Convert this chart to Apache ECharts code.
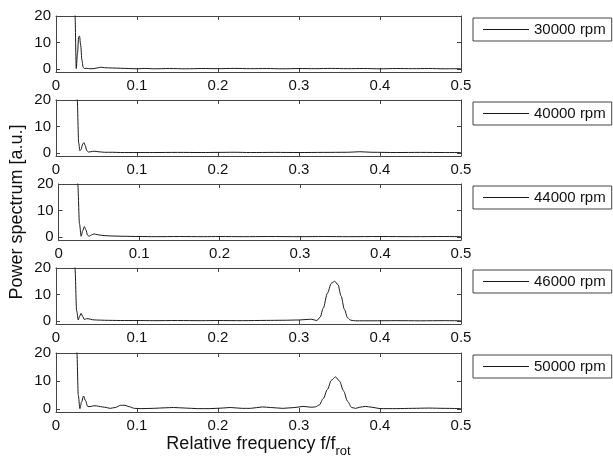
<!DOCTYPE html>
<html><head><meta charset="utf-8">
<script src="https://cdn.jsdelivr.net/npm/echarts@6/dist/echarts.min.js"></script>
<style>html,body{margin:0;padding:0;background:#fff}#c{width:613px;height:463px}</style>
</head><body><div id="c"></div>
<script>
// ---- data ----
const seriesNames = ['30000 rpm', '40000 rpm', '44000 rpm', '46000 rpm', '50000 rpm'];
const xTicks = [0, 0.1, 0.2, 0.3, 0.4, 0.5];
const yTicks = [0, 10, 20];

const freq30000 = [0.021,0.0235,0.025,0.0265,0.028,0.029,0.0305,0.032,0.0335,0.035,0.038,0.042,0.047,0.052,0.056,0.06,0.07,0.08,0.09,0.1,0.11,0.12,0.14,0.16,0.18,0.2,0.22,0.24,0.26,0.28,0.3,0.32,0.34,0.36,0.38,0.4,0.42,0.44,0.46,0.48,0.5];
const power30000 = [80,20,0.3,6,12.2,12.5,9,3.5,0.8,0.3,0.4,0.2,0.3,0.6,0.8,0.6,0.5,0.4,0.3,0.2,0.35,0.2,0.3,0.2,0.3,0.25,0.35,0.25,0.3,0.2,0.3,0.25,0.35,0.25,0.3,0.2,0.3,0.25,0.3,0.2,0.25];

const freq40000 = [0.024,0.0262,0.028,0.0295,0.031,0.033,0.0345,0.036,0.038,0.04,0.043,0.047,0.052,0.06,0.07,0.08,0.1,0.12,0.15,0.18,0.2,0.22,0.24,0.27,0.3,0.33,0.36,0.375,0.39,0.42,0.45,0.48,0.5];
const power40000 = [80,20,4,1.0,1.5,3.5,4.0,3.0,1.0,0.5,0.6,0.8,0.6,0.4,0.4,0.3,0.3,0.3,0.35,0.3,0.35,0.4,0.3,0.35,0.3,0.35,0.4,0.6,0.4,0.3,0.35,0.3,0.3];

const freq44000 = [0.022,0.0238,0.026,0.028,0.03,0.032,0.034,0.036,0.038,0.041,0.044,0.048,0.055,0.065,0.08,0.1,0.12,0.15,0.18,0.2,0.23,0.26,0.3,0.33,0.36,0.4,0.44,0.48,0.5];
const power44000 = [80,20,5,0.4,2.5,4.0,2.8,0.8,0.4,0.9,1.3,1.0,0.7,0.5,0.4,0.3,0.25,0.3,0.25,0.3,0.25,0.3,0.25,0.3,0.25,0.3,0.25,0.3,0.25];

const freq46000 = [0.0215,0.0234,0.0255,0.0275,0.029,0.031,0.033,0.035,0.038,0.041,0.045,0.05,0.06,0.07,0.08,0.1,0.12,0.15,0.18,0.2,0.23,0.26,0.28,0.3,0.31,0.315,0.322,0.326,0.33,0.335,0.34,0.344,0.348,0.352,0.356,0.36,0.364,0.37,0.39,0.42,0.45,0.48,0.5];
const power46000 = [80,20,4,0.5,1.8,3.0,1.8,0.7,1.0,0.9,0.6,0.5,0.4,0.35,0.3,0.3,0.25,0.3,0.25,0.3,0.25,0.35,0.4,0.5,0.7,0.8,0.3,1.5,5,10.5,14.3,15,13.8,9.5,4.5,1.3,0.4,0.2,0.2,0.25,0.2,0.25,0.2];

const freq50000 = [0.024,0.0258,0.0275,0.0295,0.0315,0.034,0.0365,0.039,0.042,0.046,0.05,0.055,0.06,0.067,0.073,0.08,0.085,0.09,0.097,0.105,0.12,0.135,0.145,0.16,0.175,0.19,0.205,0.215,0.23,0.24,0.255,0.265,0.28,0.295,0.305,0.315,0.32,0.325,0.33,0.335,0.34,0.345,0.35,0.355,0.36,0.365,0.37,0.375,0.382,0.39,0.4,0.42,0.44,0.46,0.48,0.5];
const power50000 = [80,20,5,0.2,2.5,4.7,3.0,1.0,0.9,1.2,1.2,0.9,0.7,0.3,0.6,1.4,1.4,0.9,0.3,0.2,0.3,0.5,0.6,0.4,0.2,0.2,0.4,0.6,0.3,0.3,0.8,0.6,0.3,0.6,1.0,0.7,0.8,1.5,3.8,7,10.3,11.5,10,6.5,2.8,0.6,0.3,0.7,1.0,0.7,0.2,0.2,0.3,0.4,0.3,0.2];

const freqs = [freq30000, freq40000, freq44000, freq46000, freq50000];
const powers = [power30000, power40000, power44000, power46000, power50000];

// ---- layout ----
const tops = [16, 100, 184, 268, 353];
const heights = [56, 56, 56, 56, 59];
const gLeft = 56, gWidth = 405;
const font = 'Liberation Sans, Arial, Helvetica, sans-serif';
const frameColor = '#444';
const textColor = '#111';

const grid = [], xAxis = [], yAxis = [], series = [], legend = [];
for (let i = 0; i < 5; i++) {
  grid.push({left: gLeft, top: tops[i], width: gWidth, height: heights[i], containLabel: false});
  const isLast = i === 4;
  // bottom x
  xAxis.push({
    type: 'value', gridIndex: i, position: 'bottom', min: 0, max: 0.5, interval: 0.1,
    axisLine: {onZero: false, lineStyle: {color: frameColor, width: 1}},
    axisTick: {inside: true, length: 4, lineStyle: {color: frameColor}},
    axisLabel: {color: textColor, fontSize: 15, fontFamily: font, margin: 6,
      formatter: v => (v === 0 ? '0' : String(Math.round(v * 10) / 10))},
    splitLine: {show: false},
    name: isLast ? '{a|Relative frequency f/f}{b|rot}' : '',
    nameLocation: 'middle', nameGap: 19,
    nameTextStyle: {rich: {
      a: {fontSize: 18, fontFamily: font, color: textColor},
      b: {fontSize: 13, fontFamily: font, color: textColor, padding: [14, 0, 0, 0]}
    }}
  });
  // top x
  xAxis.push({
    type: 'value', gridIndex: i, position: 'top', min: 0, max: 0.5, interval: 0.1,
    axisLine: {onZero: false, lineStyle: {color: frameColor, width: 1}},
    axisTick: {inside: true, length: 4, lineStyle: {color: frameColor}},
    axisLabel: {show: false}, splitLine: {show: false}
  });
  // left y
  yAxis.push({
    type: 'value', gridIndex: i, position: 'left', min: -1, max: 20,
    axisLine: {show: true, onZero: false, lineStyle: {color: frameColor, width: 1}},
    axisTick: {show: true, inside: true, length: 4, customValues: yTicks, lineStyle: {color: frameColor}},
    axisLabel: {color: textColor, fontSize: 15, fontFamily: font, margin: 5, customValues: yTicks},
    splitLine: {show: false},
    name: i === 2 ? 'Power spectrum [a.u.]' : '',
    nameLocation: 'middle', nameGap: 28, nameRotate: 90,
    nameTextStyle: {fontSize: 18, fontFamily: font, color: textColor}
  });
  // right y
  yAxis.push({
    type: 'value', gridIndex: i, position: 'right', min: -1, max: 20,
    axisLine: {show: true, onZero: false, lineStyle: {color: frameColor, width: 1}},
    axisTick: {show: true, inside: true, length: 4, customValues: yTicks, lineStyle: {color: frameColor}},
    axisLabel: {show: false}, splitLine: {show: false}
  });
  series.push({
    name: seriesNames[i], type: 'line', xAxisIndex: 2 * i, yAxisIndex: 2 * i,
    data: freqs[i].map((f, k) => [f, powers[i][k]]),
    showSymbol: false, smooth: 0.3, smoothMonotone: 'x', clip: true,
    lineStyle: {color: '#1a1a1a', width: 1}, itemStyle: {color: '#1a1a1a'}
  });
  legend.push({
    data: [seriesNames[i]], left: 473, top: tops[i] + 2, selectedMode: false,
    borderColor: frameColor, borderWidth: 1, padding: [4, 6, 4, 10],
    icon: 'rect', itemWidth: 46, itemHeight: 1, itemGap: 0,
    textStyle: {fontSize: 15, fontFamily: font, color: textColor}
  });
}

const chart = echarts.init(document.getElementById('c'), null, {renderer: 'canvas'});
chart.setOption({animation: false, backgroundColor: '#fff', grid, xAxis, yAxis, series, legend});
</script></body></html>
